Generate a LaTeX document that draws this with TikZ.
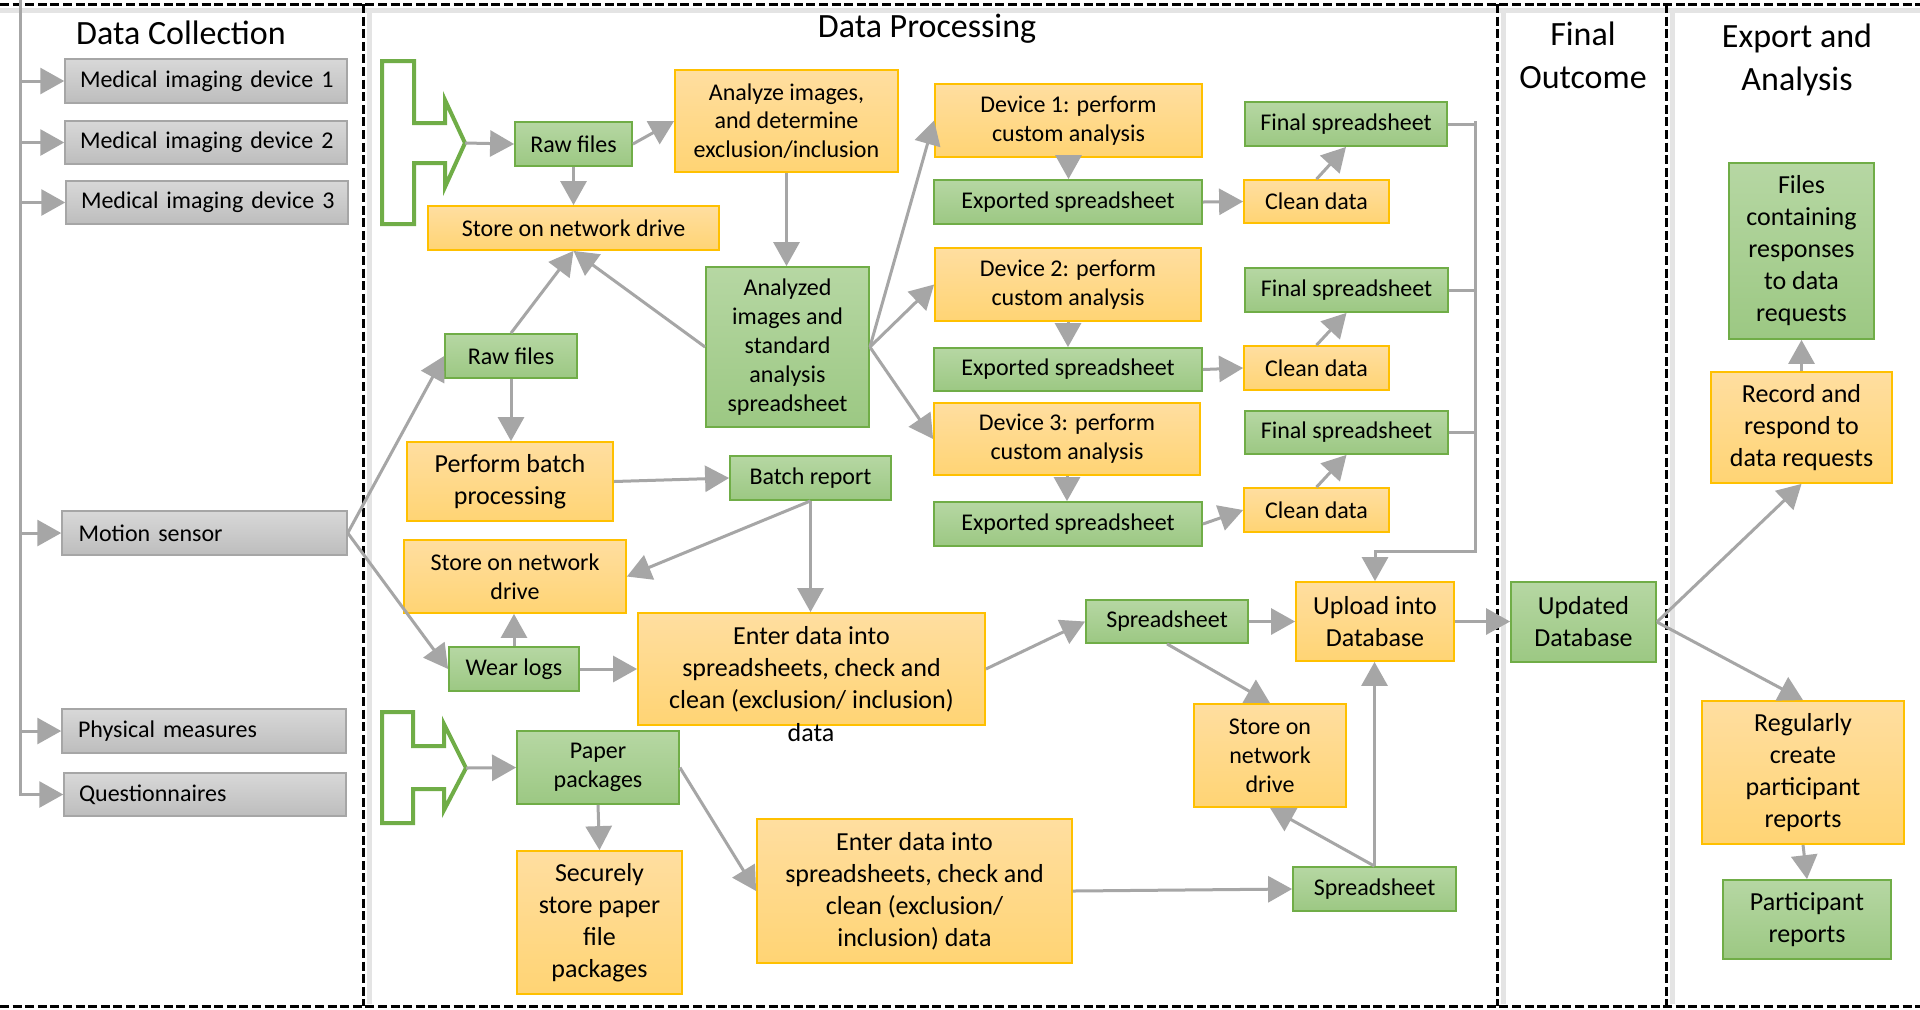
\documentclass[tikz,border=0pt]{standalone}
\usepackage{fontspec}
\setmainfont{Carlito}
\usetikzlibrary{arrows.meta}
\definecolor{graytop}{HTML}{D8D8D8}
\definecolor{graybot}{HTML}{BDBDBD}
\definecolor{graybd}{HTML}{A6A6A6}
\definecolor{greentop}{HTML}{B6D7A3}
\definecolor{greenbot}{HTML}{9CC883}
\definecolor{greenbd}{HTML}{70AD47}
\definecolor{orangetop}{HTML}{FFDEA0}
\definecolor{orangebot}{HTML}{FFD474}
\definecolor{orangebd}{HTML}{FFC000}
\definecolor{arrowgray}{HTML}{A6A6A6}
\definecolor{shadowgray}{HTML}{E4E4E4}
\newcommand\fa{\fontsize{12}{14.4}\selectfont}
\newcommand\fb{\fontsize{13}{16}\selectfont}
\newcommand\fh{\fontsize{17}{21.5}\selectfont}
\newcommand\mkbox[7]{\node[#1, minimum width={(#5-#3)*0.5pt}, minimum height={(#6-#4)*0.5pt}] (#2) at ({(#3+#5)/2},{(#4+#6)/2}) {#7};}
\begin{document}
\begin{tikzpicture}[x=0.5pt,y=-0.5pt,
  gbox/.style={draw=graybd, line width=0.75pt, top color=graytop, bottom color=graybot, inner xsep=7.5pt, inner ysep=0pt, text width=126pt, align=left, font=\fa},
  grbox/.style={draw=greenbd, line width=0.9pt, top color=greentop, bottom color=greenbot, inner sep=0pt, align=center, font=\fa},
  grboxb/.style={grbox, font=\fb},
  obox/.style={draw=orangebd, line width=0.9pt, top color=orangetop, bottom color=orangebot, inner sep=0pt, align=center, font=\fa},
  oboxb/.style={obox, font=\fb},
  plain/.style={draw=arrowgray, line width=1.5pt},
  conn/.style={plain, -{Triangle[length=12pt,width=13pt]}},
  dashline/.style={draw=black, line width=1.5pt, dash pattern=on 4.5pt off 1.8pt},
  shadowline/.style={draw=shadowgray, line width=2.5pt},
  bracket/.style={draw=greenbd, line width=2pt, line join=miter},
  heading/.style={font=\fh, align=center}]
\useasboundingbox (0,0) rectangle (1920,1009);
\fill[white] (0,0) rectangle (1920,1009);

% shadows of the frame lines
\draw[shadowline] (0,10) -- (1920,10);
\draw[shadowline] (369,10) -- (369,1004);
\draw[shadowline] (1503,10) -- (1503,1004);
\draw[shadowline] (1672,10) -- (1672,1004);
% frame lines
\draw[dashline] (0,4) -- (1920,4);
\draw[dashline] (0,1006) -- (1920,1006);
\draw[dashline] (363,4) -- (363,1006);
\draw[dashline] (1497,4) -- (1497,1006);
\draw[dashline] (1666,4) -- (1666,1006);

% headings
\node[heading] (hdc) at (181,33) {Data Collection};
\node[heading] (hdp) at (927,29) {Data Processing};
\node[heading] (hfo) at (1583,55) {Final\\Outcome};
\node[heading] (hea) at (1797,60) {Export and\\Analysis};

% data collection
\mkbox{gbox}{mid1}{65}{59}{347}{103}{\mbox{Medical imaging device 1}}
\mkbox{gbox}{mid2}{65}{121}{347}{164}{\mbox{Medical imaging device 2}}
\mkbox{gbox}{mid3}{67}{181}{347}{224}{\mbox{Medical imaging device 3}}
\mkbox{gbox}{motion}{62}{511}{347}{555}{Motion sensor}
\mkbox{gbox}{phys}{62}{709}{346}{753}{Physical measures}
\mkbox{gbox}{quest}{64}{773}{346}{816}{Questionnaires}

% green boxes
\mkbox{grbox}{raw1}{515}{122}{632}{166}{Raw files}
\mkbox{grbox}{analyzed}{706}{267}{869}{427}{Analyzed\\images and\\standard\\analysis\\spreadsheet}
\mkbox{grbox}{exp1}{934}{180}{1202}{224}{Exported spreadsheet}
\mkbox{grbox}{exp2}{934}{348}{1202}{391}{Exported spreadsheet}
\mkbox{grbox}{exp3}{934}{502}{1202}{546}{Exported spreadsheet}
\mkbox{grbox}{final1}{1245}{102}{1447}{146}{Final spreadsheet}
\mkbox{grbox}{final2}{1245}{268}{1448}{312}{Final spreadsheet}
\mkbox{grbox}{final3}{1245}{411}{1448}{454}{Final spreadsheet}
\mkbox{grbox}{raw2}{445}{334}{577}{378}{Raw files}
\mkbox{grbox}{batch}{730}{456}{891}{500}{Batch report}
\mkbox{grbox}{wear}{449}{647}{579}{691}{Wear logs}
\mkbox{grbox}{ss1}{1086}{600}{1248}{643}{Spreadsheet}
\mkbox{grbox}{ss2}{1293}{867}{1456}{911}{Spreadsheet}
\mkbox{grbox}{paper}{517}{731}{679}{804}{Paper\\packages}
\mkbox{grboxb}{updated}{1511}{582}{1656}{662}{Updated\\Database}
\mkbox{grboxb}{files}{1729}{163}{1874}{339}{Files\\containing\\responses\\to data\\requests}
\mkbox{grboxb}{partrep}{1723}{880}{1891}{959}{Participant\\reports}

% orange boxes
\mkbox{obox}{analyze}{675}{70}{898}{172}{Analyze images,\\and determine\\exclusion/inclusion}
\mkbox{obox}{store1}{428}{206}{719}{250}{Store on network drive}
\mkbox{obox}{dev1}{935}{84}{1202}{157}{Device 1: perform\\custom analysis}
\mkbox{obox}{dev2}{935}{248}{1201}{321}{Device 2: perform\\custom analysis}
\mkbox{obox}{dev3}{934}{403}{1200}{475}{Device 3: perform\\custom analysis}
\mkbox{obox}{clean1}{1244}{180}{1389}{223}{Clean data}
\mkbox{obox}{clean2}{1244}{346}{1389}{390}{Clean data}
\mkbox{obox}{clean3}{1244}{488}{1389}{532}{Clean data}
\mkbox{oboxb}{batchproc}{407}{442}{613}{521}{Perform batch\\processing}
\mkbox{obox}{store2}{404}{540}{626}{613}{Store on network\\drive}
\mkbox{oboxb}{enter1}{638}{613}{985}{725}{Enter data into\\spreadsheets, check and\\clean (exclusion/ inclusion)}
\node[font=\fb] (enter1data) at (811,733) {data};
\mkbox{oboxb}{upload}{1296}{582}{1454}{661}{Upload into\\Database}
\mkbox{obox}{store3}{1194}{704}{1346}{807}{Store on\\network\\drive}
\mkbox{oboxb}{enter2}{757}{819}{1072}{963}{Enter data into\\spreadsheets, check and\\clean (exclusion/\\inclusion) data}
\mkbox{oboxb}{securely}{517}{851}{682}{994}{Securely\\store paper\\file\\packages}
\mkbox{oboxb}{record}{1711}{372}{1892}{483}{Record and\\respond to\\data requests}
\mkbox{oboxb}{regularly}{1702}{701}{1904}{844}{Regularly\\create\\participant\\reports}

% green bracket shapes
\draw[bracket] (382,61) -- (414,61) -- (414,123) -- (445,123) -- (445,100) -- (465,143) -- (445,187) -- (445,163) -- (414,163) -- (414,224) -- (382,224) -- cycle;
\coordinate (b1tip) at (465,143);
\draw[bracket] (382,712) -- (413,712) -- (413,746) -- (444,746) -- (444,724) -- (466,768) -- (444,810) -- (444,789) -- (413,789) -- (413,823) -- (382,823) -- cycle;
\coordinate (b2tip) at (466,768);

% trunk
\coordinate (trTop) at (20,0);
\draw[conn] (trTop) -- (trTop |- quest.west) -- (quest.west);
\foreach \n in {mid1,mid2,mid3,motion,phys}{\draw[conn] (trTop |- \n.west) -- (\n.west);}

% connectors
\draw[conn] (b1tip) -- (raw1.west);
\draw[conn] (raw1.east) -- (analyze.west);
\draw[conn] (raw1.south) -- (store1.south |- raw1.south) -- (store1.north);
\draw[conn] (analyze.south) -- (analyze.south |- analyzed.north);
\draw[conn] (analyzed.east) -- (dev1.west);
\draw[conn] (analyzed.east) -- (dev2.west);
\draw[conn] (analyzed.east) -- (dev3.west);
\draw[conn] (dev1.south) -- (dev1.south |- exp1.north);
\draw[conn] (dev2.south) -- (dev2.south |- exp2.north);
\draw[conn] (dev3.south) -- (dev3.south |- exp3.north);
\draw[conn] (exp1.east) -- (clean1.west);
\draw[conn] (exp2.east) -- (clean2.west);
\draw[conn] (exp3.east) -- (clean3.west);
\draw[conn] (clean1.north) -- (final1.south);
\draw[conn] (clean2.north) -- (final2.south);
\draw[conn] (clean3.north) -- (final3.south);
\coordinate (busTop) at (1475,121);
\coordinate (busBot) at (1475,551);
\draw[plain] (final1.east) -- (final1.east -| busTop);
\draw[plain] (final2.east) -- (final2.east -| busTop);
\draw[plain] (final3.east) -- (final3.east -| busTop);
\draw[conn] (busTop) -- (busBot) -- (busBot -| upload.north) -- (upload.north);
\draw[conn] (raw2.north) -- (store1.south);
\draw[conn] (analyzed.west) -- (store1.south);
\draw[conn] (motion.east) -- (raw2.west);
\draw[conn] (motion.east) -- (wear.west);
\draw[conn] (raw2.south) -- (raw2.south |- batchproc.north);
\draw[conn] (batchproc.east) -- (batch.west);
\draw[conn] (batch.south) -- (store2.east);
\draw[conn] (batch.south) -- (batch.south |- enter1.north);
\draw[conn] (wear.north) -- (wear.north |- store2.south);
\draw[conn] (wear.east) -- (wear.east -| enter1.west);
\draw[conn] (enter1.east) -- (ss1.west);
\draw[conn] (ss1.east) -- (ss1.east -| upload.west);
\draw[conn] (ss1.south) -- (store3.north);
\draw[conn] (upload.east) -- (upload.east -| updated.west);
\draw[conn] (b2tip) -- (paper.west);
\draw[conn] (paper.south) -- (securely.north);
\draw[conn] (paper.east) -- (enter2.west);
\draw[conn] (enter2.east) -- (ss2.west);
\draw[conn] (ss2.north) -- (store3.south);
\draw[conn] (ss2.north) -- (ss2.north |- upload.south);
\draw[conn] (updated.east) -- (record.south);
\draw[conn] (updated.east) -- (regularly.north);
\draw[conn] (record.north) -- (record.north |- files.south);
\draw[conn] (regularly.south) -- (partrep.north);
\end{tikzpicture}
\end{document}
